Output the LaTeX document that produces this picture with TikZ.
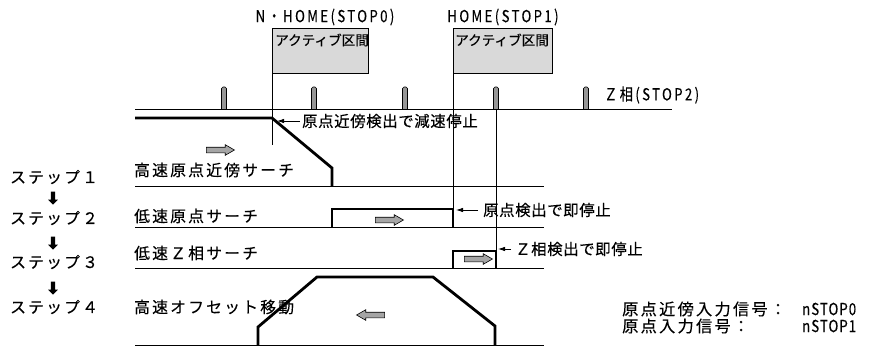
\documentclass[tikz,border=0pt]{standalone}
\usepackage{fontspec}
\usepackage{graphicx}
\setmainfont{Noto Sans CJK JP}[FakeBold=0.3]
\newfontfamily\jpA[LetterSpace=14,FakeBold=0.3]{Noto Sans CJK JP}
\newfontfamily\jpB[LetterSpace=4,FakeBold=0.3]{Noto Sans CJK JP}
\newfontfamily\jpC[LetterSpace=18,FakeBold=0.2]{Noto Sans CJK JP}
\newfontfamily\jpD[LetterSpace=8,FakeBold=0.2]{Noto Sans CJK JP}
\usetikzlibrary{shapes.arrows,arrows.meta}
\definecolor{boxgray}{RGB}{217,217,217}
\definecolor{arrgray}{RGB}{165,165,165}
\definecolor{pulsegray}{RGB}{150,150,150}
\newcommand\nrw[1]{\scalebox{0.8}[1]{#1}}
\begin{document}
\begin{tikzpicture}[x=1pt,y=-1pt,
  lbl/.style={inner sep=0pt, font=\fontsize{15.8}{17}\jpA},
  ann/.style={inner sep=0pt, font=\fontsize{15.4}{17}\jpB},
  leg/.style={inner sep=0pt, font=\fontsize{16.2}{18}\jpA},
  legv/.style={inner sep=0pt, font=\fontsize{16.5}{18}\jpD},
  hdr/.style={inner sep=0pt, font=\fontsize{16.5}{18}\jpC},
  boxtxt/.style={inner sep=0pt, font=\fontsize{13.6}{15}\selectfont},
  actbox/.style={draw, fill=boxgray, line width=0.8pt, inner sep=0pt, anchor=north west},
  trace/.style={line width=2.8pt, line join=miter},
  thinl/.style={line width=0.7pt},
  base/.style={line width=1pt},
  annarr/.style={line width=0.8pt, -{Latex[length=7pt,width=4.5pt]}},
  garrow/.style={single arrow, draw, fill=arrgray, line width=0.6pt, minimum height=28pt,
     inner sep=2.5pt, single arrow head extend=2.5pt, single arrow tip angle=60},
  barrow/.style={single arrow, fill=black, minimum height=13pt, inner sep=2pt,
     single arrow head extend=2.7pt, shape border rotate=270, single arrow tip angle=90}
]
\useasboundingbox (0,0) rectangle (870,346);

% headers and active boxes
\node[hdr] (h0) at (325,17) {\nrw{N・HOME(STOP0)}};
\node[hdr] (h1) at (503,17) {\nrw{HOME(STOP1)}};
\node[actbox, minimum width=96pt, minimum height=45pt] (box1) at (272,28) {};
\node[actbox, minimum width=99pt, minimum height=45pt] (box2) at (453,28) {};
\node[boxtxt, anchor=west] (bt1) at (275,40) {アクティブ区間};
\node[boxtxt, anchor=west] (bt2) at (455,40) {アクティブ区間};

% Z phase line and pulses
\coordinate (zl0) at (135,109);
\coordinate (zl1) at (672,109);
\foreach \px in {224,314,405,496,586}
  \draw[fill=pulsegray, line width=0.6pt, rounded corners=1.5pt]
    (\px-2.5,109) -- (\px-2.5,87) -- (\px+2.5,87) -- (\px+2.5,109);
\draw[base] (zl0) -- (zl1);
\node[hdr, anchor=west] (zt) at (604,95) {\nrw{Ｚ相(STOP2)}};

% baselines
\foreach \by in {186,227,268,345}
  \draw[base] (135,\by) -- (544,\by);

% thin vertical markers
\coordinate (v1e) at (272,145);
\coordinate (v2e) at (453,209);
\coordinate (v3s) at (496,109);
\coordinate (v3e) at (496,251);
\draw[thinl] (box1.south west) -- (v1e);
\draw[thinl] (box2.south west) -- (v2e);
\draw[thinl] (v3s) -- (v3e);

% traces
\draw[trace] (135,118) -- (272,118) -- (332,168) -- (332,186);
\draw[trace] (332,227) -- (332,209) -- (453,209) -- (453,227);
\draw[trace] (453,268) -- (453,251) -- (496,251) -- (496,268);
\draw[trace] (258,345) -- (258,327) -- (317,277) -- (433,277) -- (495,326) -- (495,345);

% gray direction arrows
\node[garrow] (g1) at (218,150) {};
\node[garrow] (g2) at (387,220) {};
\node[garrow] (g3) at (476,259) {};
\node[garrow, shape border rotate=180] (g4) at (373,315) {};

% annotations
\node[ann, anchor=west] (a1t) at (302,121) {原点近傍検出で減速停止};
\path (a1t.west) ++(-25,0) coordinate (a1tip);
\draw[annarr] ([xshift=-2pt]a1t.west) -- (a1tip);
\node[ann, anchor=west] (a2t) at (483,210) {原点検出で即停止};
\path (a2t.west) ++(-27,0) coordinate (a2tip);
\draw[annarr] ([xshift=-5pt]a2t.west) -- (a2tip);
\node[ann, anchor=west] (a3t) at (515,249) {Ｚ相検出で即停止};
\path (a3t.west) ++(-17,0) coordinate (a3tip);
\draw[annarr] ([xshift=-4pt]a3t.west) -- (a3tip);

% step column
\node[lbl, anchor=west] (s1) at (10,177) {ステップ１};
\node[lbl, anchor=west] (s2) at (10,218) {ステップ２};
\node[lbl, anchor=west] (s3) at (10,262) {ステップ３};
\node[lbl, anchor=west] (s4) at (10,307) {ステップ４};
\node[barrow] (d1) at (53,197) {};
\node[barrow] (d2) at (53,242) {};
\node[barrow] (d3) at (53,287) {};

% step names
\node[lbl, anchor=west] (n1) at (134,170) {高速原点近傍サーチ};
\node[lbl, anchor=west] (n2) at (134,216) {低速原点サーチ};
\node[lbl, anchor=west] (n3) at (134,253) {低速Ｚ相サーチ};
\node[lbl, anchor=west] (n4) at (134,307) {高速オフセット移動};

% legend
\node[leg, anchor=west] (l1) at (622,309) {原点近傍入力信号：};
\node[legv, anchor=west] (l1v) at (802,309) {\nrw{nSTOP0}};
\node[leg, anchor=west] (l2) at (622,326) {原点入力信号：};
\node[legv, anchor=west] (l2v) at (802,326) {\nrw{nSTOP1}};
\end{tikzpicture}
\end{document}
